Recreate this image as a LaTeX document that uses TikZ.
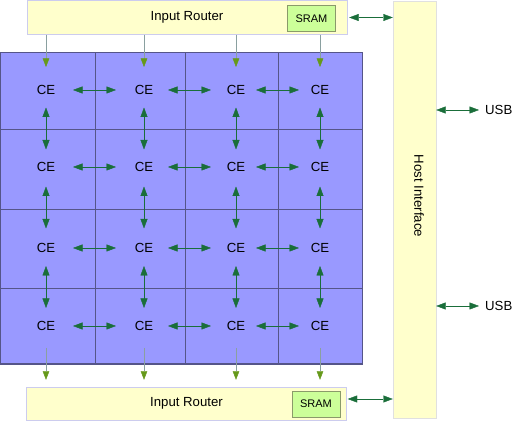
\documentclass[tikz,border=0pt]{standalone}
\usepackage{fontspec}
\setmainfont{Liberation Sans}
\usetikzlibrary{arrows.meta,calc}
\definecolor{cefill}{HTML}{9999FF}
\definecolor{celine}{HTML}{555588}
\definecolor{rtfill}{HTML}{FFFFCC}
\definecolor{rtline}{HTML}{CCCCEE}
\definecolor{smfill}{HTML}{CCFF99}
\definecolor{smline}{HTML}{8A9A6A}
\definecolor{linkgreen}{HTML}{1A6E3A}
\definecolor{feedhead}{HTML}{66991A}
\definecolor{feedline}{HTML}{8AA0A0}
\tikzset{
  router/.style={draw=rtline,fill=rtfill,minimum width=320pt,minimum height=34pt,inner sep=0pt},
  sram/.style={draw=smline,fill=smfill,minimum width=48pt,minimum height=26pt,inner sep=0pt,font=\fontsize{11}{13}\selectfont},
  ce/.style={inner sep=0pt},
  link/.style={linkgreen,{Triangle[length=9.5pt,width=7pt]}-{Triangle[length=9.5pt,width=7pt]}},
  feed/.style={feedline,-{Triangle[length=8.5pt,width=6.5pt,color=feedhead]}},
}
\begin{document}
\begin{tikzpicture}[x=1pt,y=1pt,font=\fontsize{13.2}{15}\selectfont]
                \useasboundingbox (0,0) rectangle (514,422);
                %% grid of compute elements
                \fill[cefill] (0,58) rectangle (362,370);
                \draw[celine] (0,58) rectangle (362,370);
                \draw[celine,line width=1.2pt] (0,58) -- (362,58);
                \foreach \y in {134,213,293}
                    \draw[celine] (0,\y) -- (362,\y);
                \foreach \x in {95,185,278}
                    \draw[celine] (\x,58) -- (\x,370);
                \foreach \r/\y in {1/332,2/255,3/174,4/96}
                    \foreach \c/\x in {1/46,2/144,3/236,4/320}
                        \node[ce] (c\r\c) at (\x,\y) {CE};
                %% routers and host
                \node[router] (inrt) at (187,404.5) {Input Router};
                \node[sram] (smt) at (311.5,403.5) {SRAM};
                \node[router,minimum height=33pt] (inrb) at (186.5,18.5) {Input Router};
                \node[sram] (smb) at (316,18) {SRAM};
                \node[draw=black!12,fill=rtfill,minimum width=43pt,minimum height=417pt] (host) at (414.5,212.5) {};
                \node[rotate=-90] (hostlbl) at (419,226) {Host Interface};
                \node[anchor=west,inner sep=3pt] (usb1) at (482,312) {USB};
                \node[anchor=west,inner sep=3pt] (usb2) at (482,116) {USB};
                %% links between neighbours
                \foreach \r in {1,2,3,4}
                    \foreach \a/\b in {1/2,2/3,3/4}
                        \draw[link] ($(c\r\a)!0.5!(c\r\b)+(-22,0)$) -- ($(c\r\a)!0.5!(c\r\b)+(21,0)$);
                \foreach \a/\b in {1/2,2/3,3/4}
                    \foreach \c in {1,2,3,4}
                        \draw[link] ($(c\a\c)!0.5!(c\b\c)+(0,21)$) -- ($(c\a\c)!0.5!(c\b\c)+(0,-21)$);
                %% feeds from and to the routers
                \foreach \c in {1,2,3,4} {
                    \draw[feed] (inrt.south -| c1\c) -- ($(c1\c)+(0,23)$);
                    \draw[feed] ($(c4\c)+(0,-22)$) -- ($(inrb.north -| c4\c)+(0,7)$);
                }
                %% host connections
                \draw[link] ($(inrt.east)+(2,0)$) -- (inrt.east -| host.west);
                \draw[link] ($(inrb.east)+(1,4.5)$) -- ($(inrb.east -| host.west)+(0,4.5)$);
                \draw[link] (host.east |- usb1) -- ($(usb1.west)+(-3,0)$);
                \draw[link] (host.east |- usb2) -- ($(usb2.west)+(-3,0)$);
            \end{tikzpicture}
\end{document}
